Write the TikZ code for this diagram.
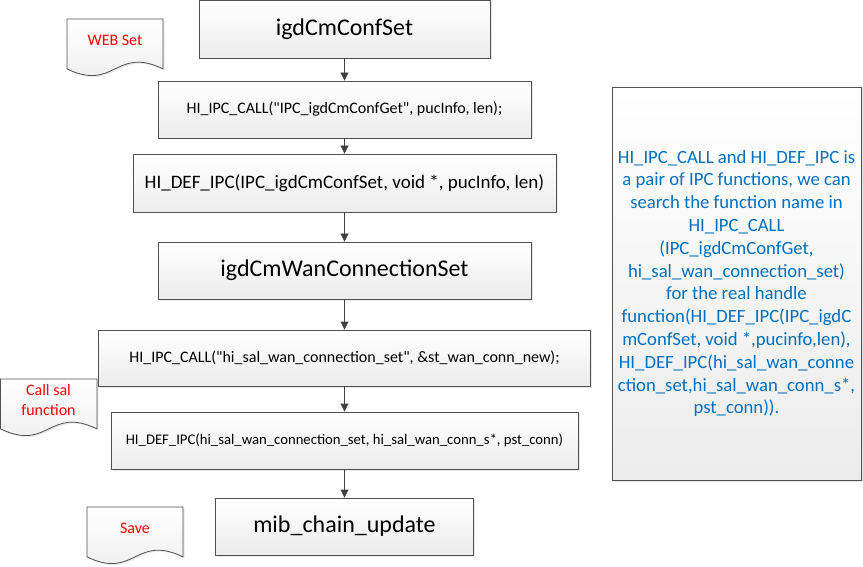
\documentclass[tikz,border=0pt]{standalone}
\usepackage{fontspec}
\setmainfont{Carlito}[Ligatures=TeXOff]
\usetikzlibrary{arrows.meta,shadows}
\definecolor{edgegray}{RGB}{80,80,80}
\definecolor{arrowgray}{RGB}{64,64,64}
\definecolor{fillbottom}{RGB}{236,236,236}
\definecolor{noteblue}{RGB}{0,112,192}
\definecolor{docred}{RGB}{255,0,0}
\newcommand\docpath[4]{%
  \path[docshape] (#1,#2) -- (#1+#3,#2) -- (#1+#3,#2+0.86*#4)
    .. controls (#1+0.5*#3,#2+0.46*#4) and (#1+0.5*#3,#2+1.26*#4) .. (#1,#2+0.86*#4) -- cycle;}
\begin{document}
\begin{tikzpicture}[x=1pt,y=-1pt,
  procbox/.style={draw=edgegray, line width=0.9pt, top color=white, bottom color=fillbottom,
    drop shadow={opacity=0.18,shadow xshift=1.5pt,shadow yshift=-1.5pt},
    inner sep=0pt, text=black, align=center},
  bigtext/.style={font=\fontsize{24}{29}\selectfont},
  docshape/.style={draw=edgegray, line width=0.8pt, top color=white, bottom color=fillbottom,
    drop shadow={opacity=0.18,shadow xshift=1.5pt,shadow yshift=-1.5pt}},
  doclabel/.style={text=docred, align=center, inner sep=0pt, font=\fontsize{16}{19.4}\selectfont},
  flowarrow/.style={draw=arrowgray, line width=0.9pt, -{Triangle[length=8pt,width=8pt]}}
]
\useasboundingbox (0,0) rectangle (863,567);

% process boxes
\node[procbox, bigtext, minimum width=291pt, minimum height=58pt] (b1) at (344.5,29) {igdCmConfSet};
\node[procbox, font=\fontsize{16}{19.4}\selectfont, minimum width=373pt, minimum height=57pt] (b2) at (344.5,109.5)
  {HI\_IPC\_CALL("IPC\_igdCmConfGet", pucInfo, len);};
\node[procbox, font=\fontsize{19}{23}\selectfont, minimum width=423pt, minimum height=58pt] (b3) at (344.5,183)
  {HI\_DEF\_IPC(IPC\_igdCmConfSet, void *, pucInfo, len)};
\node[procbox, bigtext, minimum width=373pt, minimum height=57pt] (b4) at (344.5,270.5) {igdCmWanConnectionSet};
\node[procbox, font=\fontsize{16}{19.4}\selectfont, minimum width=492pt, minimum height=56pt] (b5) at (344.5,358)
  {HI\_IPC\_CALL("hi\_sal\_wan\_connection\_set", \&st\_wan\_conn\_new);};
\node[procbox, font=\fontsize{14.7}{18}\selectfont, minimum width=467pt, minimum height=57pt] (b6) at (344.5,440.5)
  {HI\_DEF\_IPC(hi\_sal\_wan\_connection\_set, hi\_sal\_wan\_conn\_s*, pst\_conn)};
\node[procbox, bigtext, minimum width=258pt, minimum height=57pt] (b7) at (344.5,526.5) {mib\_chain\_update};

% arrows
\draw[flowarrow] (b1) -- (b2);
\draw[flowarrow] (b2) -- (b3);
\draw[flowarrow] (b3) -- (b4);
\draw[flowarrow] (b4) -- (b5);
\draw[flowarrow] (b5) -- (b6);
\draw[flowarrow] (b6) -- (b7);

% note
\node[procbox, text=noteblue, minimum width=249pt, minimum height=393pt,
      font=\fontsize{18.7}{22.8}\selectfont] (note) at (736.5,283.5)
  {HI\_IPC\_CALL and HI\_DEF\_IPC is\\
   a pair of IPC functions, we can\\
   search the function name in\\
   HI\_IPC\_CALL\\
   (IPC\_igdCmConfGet,\\
   hi\_sal\_wan\_connection\_set)\\
   for the real handle\\
   function(HI\_DEF\_IPC(IPC\_igdC\\
   mConfSet, void *,pucinfo,len),\\
   HI\_DEF\_IPC(hi\_sal\_wan\_conne\\
   ction\_set,hi\_sal\_wan\_conn\_s*,\\
   pst\_conn)).};

% document shapes
\docpath{67}{19}{96}{58}
\node[doclabel] (webset) at (115,40) {WEB Set};
\docpath{0.5}{379}{96.5}{58}
\node[doclabel] (callsal) at (48.5,400) {Call sal\\function};
\docpath{87}{507}{96}{58}
\node[doclabel] (save) at (135,528) {Save};
\end{tikzpicture}
\end{document}
